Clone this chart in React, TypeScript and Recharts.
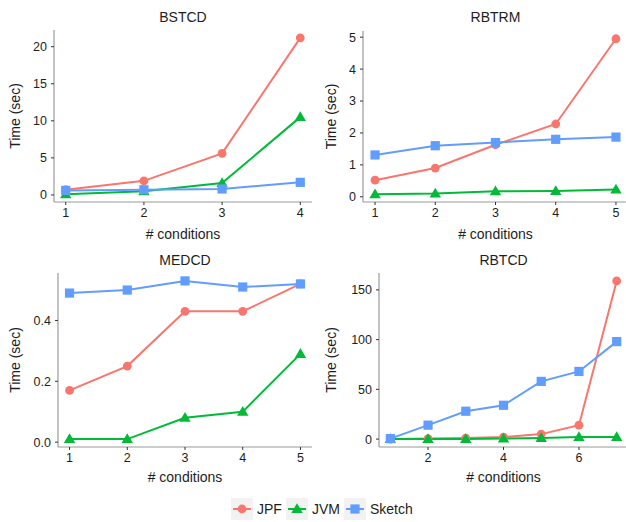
import React from 'react';
import { LineChart, Line, XAxis, YAxis } from 'recharts';

// ---------- data ----------
const seriesNames = ['JPF', 'JVM', 'Sketch'];
const seriesColors = ['#F8766D', '#00BA38', '#619CFF'];

const bstcdX = [1, 2, 3, 4];
const bstcdJPF = [0.7, 1.9, 5.6, 21.2];
const bstcdJVM = [0.1, 0.5, 1.6, 10.5];
const bstcdSketch = [0.6, 0.7, 0.8, 1.7];
const bstcdYTicks = [0, 5, 10, 15, 20];
const bstcdXTicks = [1, 2, 3, 4];

const rbtrmX = [1, 2, 3, 4, 5];
const rbtrmJPF = [0.52, 0.9, 1.63, 2.28, 4.95];
const rbtrmJVM = [0.08, 0.1, 0.17, 0.18, 0.23];
const rbtrmSketch = [1.31, 1.6, 1.7, 1.8, 1.87];
const rbtrmYTicks = [0, 1, 2, 3, 4, 5];
const rbtrmXTicks = [1, 2, 3, 4, 5];

const medcdX = [1, 2, 3, 4, 5];
const medcdJPF = [0.17, 0.25, 0.43, 0.43, 0.52];
const medcdJVM = [0.01, 0.01, 0.08, 0.1, 0.29];
const medcdSketch = [0.49, 0.5, 0.53, 0.51, 0.52];
const medcdYTicks = [0, 0.2, 0.4];
const medcdXTicks = [1, 2, 3, 4, 5];

const rbtcdX = [1, 2, 3, 4, 5, 6, 7];
const rbtcdJPF = [0, 0.5, 1, 2, 5, 14, 159];
const rbtcdJVM = [0, 0, 0, 0.5, 1, 2, 2];
const rbtcdSketch = [0.5, 14, 28, 34, 58, 68, 98];
const rbtcdYTicks = [0, 50, 100, 150];
const rbtcdXTicks = [2, 4, 6];

const xTitle = '# conditions';
const yTitle = 'Time (sec)';

// ---------- helpers ----------
const FONT = '"Liberation Sans", Arial, Helvetica, sans-serif';
const TEXT = '#1e1e1e';

const toRows = (xs: number[], a: number[], b: number[], c: number[]) =>
  xs.map((x, i) => ({ x, JPF: a[i], JVM: b[i], Sketch: c[i] }));

// ggplot-like 5% expansion computed from the data
const expand = (vals: number[]): [number, number] => {
  const lo = Math.min(...vals);
  const hi = Math.max(...vals);
  const pad = (hi - lo) * 0.05;
  return [lo - pad, hi + pad];
};

const CircleDot = (color: string) => (p: any) => {
  if (p.cx == null || p.cy == null) return <g key={`c-${p.index}`} />;
  return <circle key={`c-${p.index}`} cx={p.cx} cy={p.cy} r={4.4} fill={color} />;
};
const TriangleDot = (color: string) => (p: any) => {
  if (p.cx == null || p.cy == null) return <g key={`t-${p.index}`} />;
  const { cx, cy } = p;
  return (
    <polygon
      key={`t-${p.index}`}
      points={`${cx},${cy - 5.8} ${cx - 5.7},${cy + 4} ${cx + 5.7},${cy + 4}`}
      fill={color}
    />
  );
};
const SquareDot = (color: string) => (p: any) => {
  if (p.cx == null || p.cy == null) return <g key={`s-${p.index}`} />;
  return <rect key={`s-${p.index}`} x={p.cx - 4.6} y={p.cy - 4.6} width={9.2} height={9.2} fill={color} />;
};
const dotMakers = [CircleDot, TriangleDot, SquareDot];

type PanelProps = {
  title: string;
  rows: any[];
  xDomain: [number, number];
  yDomain: [number, number];
  xTicks: number[];
  yTicks: number[];
  left: number;
  top: number;
  width: number;
  height: number;
  marginTop: number;
  yAxisWidth: number;
  xAxisHeight: number;
  yLabelX: number;
  xLabelOffset: number;
  titleY: number;
  yFmt?: (v: number) => string;
};

const Panel = (p: PanelProps) => {
  const plotLeft = p.yAxisWidth;
  const plotRight = p.width;
  const titleCx = (plotLeft + plotRight) / 2;
  return (
    <div style={{ position: 'absolute', left: p.left, top: p.top, width: p.width, height: p.height }}>
      <div
        style={{
          position: 'absolute',
          left: titleCx - 100,
          width: 200,
          top: p.titleY - 9,
          height: 18,
          lineHeight: '18px',
          textAlign: 'center',
          fontFamily: FONT,
          fontSize: 14,
          color: TEXT,
        }}
      >
        {p.title}
      </div>
      <LineChart
        width={p.width}
        height={p.height}
        data={p.rows}
        margin={{ top: p.marginTop, right: 0, bottom: 0, left: 0 }}
      >
        <XAxis
          type="number"
          dataKey="x"
          domain={p.xDomain}
          ticks={p.xTicks}
          interval={0}
          allowDataOverflow
          height={p.xAxisHeight}
          tickSize={3}
          tickMargin={3}
          axisLine={{ stroke: '#9a9a9a', strokeWidth: 1.2 }}
          tickLine={{ stroke: '#333' }}
          tick={{ fill: TEXT, fontSize: 12.5, fontFamily: FONT }}
          label={(lp: any) => {
            const vb = lp.viewBox || {};
            return (
              <text
                x={vb.x + vb.width / 2}
                y={vb.y + vb.height - p.xLabelOffset}
                textAnchor="middle"
                fill={TEXT}
                fontSize={14}
                fontFamily={FONT}
              >
                {xTitle}
              </text>
            );
          }}
        />
        <YAxis
          type="number"
          domain={p.yDomain}
          ticks={p.yTicks}
          interval={0}
          allowDataOverflow
          width={p.yAxisWidth}
          tickSize={3}
          tickMargin={4}
          tickFormatter={p.yFmt}
          axisLine={{ stroke: '#9a9a9a', strokeWidth: 1.2 }}
          tickLine={{ stroke: '#333' }}
          tick={{ fill: TEXT, fontSize: 12.5, fontFamily: FONT }}
          label={(lp: any) => {
            const vb = lp.viewBox || {};
            const cx = vb.x + p.yLabelX;
            const cy = vb.y + vb.height / 2;
            return (
              <text
                x={cx}
                y={cy}
                transform={`rotate(-90, ${cx}, ${cy})`}
                textAnchor="middle"
                dominantBaseline="central"
                fill={TEXT}
                fontSize={14}
                fontFamily={FONT}
              >
                {yTitle}
              </text>
            );
          }}
        />
        {seriesNames.map((name, i) => (
          <Line
            key={name}
            type="linear"
            dataKey={name}
            stroke={seriesColors[i]}
            strokeWidth={2}
            dot={dotMakers[i](seriesColors[i])}
            activeDot={false}
            isAnimationActive={false}
          />
        ))}
      </LineChart>
    </div>
  );
};

const LegendKey = ({ i }: { i: number }) => {
  const c = seriesColors[i];
  const Dot = dotMakers[i](c);
  return (
    <svg width={22} height={22} style={{ display: 'block' }}>
      <rect x={0} y={0} width={22} height={22} fill="#F2F2F2" />
      <line x1={2} y1={11} x2={20} y2={11} stroke={c} strokeWidth={2} />
      {Dot({ cx: 11, cy: 11, index: 0 })}
    </svg>
  );
};

export default function App() {
  const p1 = toRows(bstcdX, bstcdJPF, bstcdJVM, bstcdSketch);
  const p2 = toRows(rbtrmX, rbtrmJPF, rbtrmJVM, rbtrmSketch);
  const p3 = toRows(medcdX, medcdJPF, medcdJVM, medcdSketch);
  const p4 = toRows(rbtcdX, rbtcdJPF, rbtcdJVM, rbtcdSketch);
  return (
    <div
      style={{
        position: 'absolute',
        left: 0,
        top: 0,
        width: 626,
        height: 522,
        overflow: 'hidden',
        background: '#fff',
      }}
    >
      <Panel
        title="BSTCD"
        rows={p1}
        xDomain={expand(bstcdX)}
        yDomain={expand([...bstcdJPF, ...bstcdJVM, ...bstcdSketch])}
        xTicks={bstcdXTicks}
        yTicks={bstcdYTicks}
        left={0}
        top={0}
        width={312}
        height={250}
        marginTop={30}
        yAxisWidth={54}
        xAxisHeight={48}
        yLabelX={15}
        xLabelOffset={11}
        titleY={17}
      />
      <Panel
        title="RBTRM"
        rows={p2}
        xDomain={expand(rbtrmX)}
        yDomain={expand([...rbtrmJPF, ...rbtrmJVM, ...rbtrmSketch])}
        xTicks={rbtrmXTicks}
        yTicks={rbtrmYTicks}
        left={313}
        top={0}
        width={315}
        height={250}
        marginTop={31}
        yAxisWidth={50}
        xAxisHeight={48}
        yLabelX={18}
        xLabelOffset={11}
        titleY={17}
      />
      <Panel
        title="MEDCD"
        rows={p3}
        xDomain={expand(medcdX)}
        yDomain={expand([...medcdJPF, ...medcdJVM, ...medcdSketch])}
        xTicks={medcdXTicks}
        yTicks={medcdYTicks}
        yFmt={(v: number) => v.toFixed(1)}
        left={0}
        top={250}
        width={312}
        height={240}
        marginTop={23}
        yAxisWidth={58}
        xAxisHeight={43}
        yLabelX={15}
        xLabelOffset={8}
        titleY={10}
      />
      <Panel
        title="RBTCD"
        rows={p4}
        xDomain={expand(rbtcdX)}
        yDomain={expand([...rbtcdJPF, ...rbtcdJVM, ...rbtcdSketch])}
        xTicks={rbtcdXTicks}
        yTicks={rbtcdYTicks}
        left={313}
        top={250}
        width={315}
        height={240}
        marginTop={23}
        yAxisWidth={66}
        xAxisHeight={43}
        yLabelX={18}
        xLabelOffset={8}
        titleY={10}
      />
      <div
        style={{
          position: 'absolute',
          left: 231,
          top: 498,
          display: 'flex',
          alignItems: 'center',
          fontFamily: FONT,
          fontSize: 14,
          color: TEXT,
        }}
      >
        {seriesNames.map((n, i) => (
          <div key={n} style={{ display: 'flex', alignItems: 'center', marginRight: 4 }}>
            <LegendKey i={i} />
            <span style={{ marginLeft: 4 }}>{n}</span>
          </div>
        ))}
      </div>
    </div>
  );
}
